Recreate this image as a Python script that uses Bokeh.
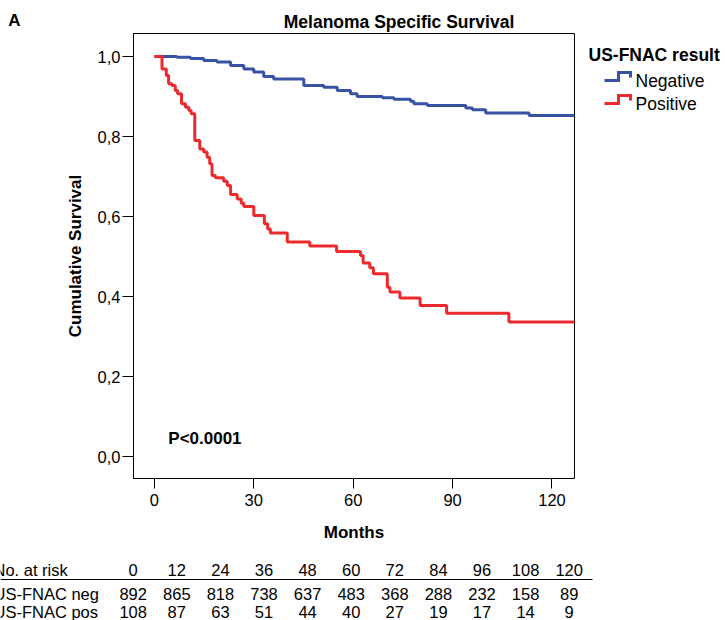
from bokeh.plotting import figure
from bokeh.layouts import column, row
from bokeh.models import Range1d, Label, FixedTicker
from bokeh.core.properties import value
from bokeh.embed import file_html
from bokeh.resources import INLINE

W, H = 725, 620

# ---- data ----
neg_months = [0, 6.8, 10.9, 14.9, 18.9, 23.0, 27.0, 30.0, 33.0, 36.0, 45.1, 51.1, 55.2,
              59.2, 61.2, 68.8, 72.3, 77.3, 78.3, 82.4, 94.0, 96.0, 100.0, 113.1, 127.0]
neg_surv = [1.0, 0.998, 0.995, 0.99, 0.986, 0.9775, 0.969, 0.961, 0.95, 0.944, 0.9275, 0.923,
            0.915, 0.907, 0.90, 0.897, 0.893, 0.888, 0.882, 0.8775, 0.871, 0.8667, 0.859,
            0.8525, 0.8525]

pos_months = [0, 2.3, 3.6, 4.3, 5.3, 6.3, 7.0, 8.2, 9.4, 10.4, 11.1, 12.2, 13.7, 14.9, 15.9,
              16.7, 17.4, 18.4, 20.9, 22.0, 23.0, 25.0, 26.2, 27.0, 30.0, 33.2, 34.2, 35.0,
              40.1, 46.9, 55.0, 62.2, 63.0, 65.0, 66.1, 70.3, 71.1, 74.1, 80.2, 88.2, 107.0,
              127.0]
pos_surv = [1.0, 0.969, 0.9525, 0.932, 0.9275, 0.915, 0.907, 0.882, 0.873, 0.865, 0.857, 0.79,
            0.769, 0.761, 0.748, 0.732, 0.7025, 0.697, 0.688, 0.6775, 0.655, 0.644, 0.633,
            0.625, 0.6025, 0.582, 0.569, 0.559, 0.536, 0.526, 0.5125, 0.5025, 0.484, 0.472,
            0.457, 0.423, 0.411, 0.396, 0.3775, 0.358, 0.336, 0.336]

x_ticks = [0, 30, 60, 90, 120]
y_ticks = [0.0, 0.2, 0.4, 0.6, 0.8, 1.0]
y_tick_labels = ["0,0", "0,2", "0,4", "0,6", "0,8", "1,0"]

risk_times = [0, 12, 24, 36, 48, 60, 72, 84, 96, 108, 120]
risk_neg = [892, 865, 818, 738, 637, 483, 368, 288, 232, 158, 89]
risk_pos = [108, 87, 63, 51, 44, 40, 27, 19, 17, 14, 9]

title_text = "Melanoma Specific Survival"
legend_title = "US-FNAC result"
series_names = ["Negative", "Positive"]
row_names = ["No. at risk", "US-FNAC neg", "US-FNAC pos"]
p_value_text = "P<0.0001"

BLUE = "#3953A4"
RED = "#EC2A2E"
FONT = "Liberation Sans"

# layout sizes
HEAD_H = 32
MAIN_W = 584
MAIN_H = 513
TAB_H = H - HEAD_H - MAIN_H
LEG_W = W - MAIN_W
FRAME_TOP = 1          # frame top inside the main figure
FRAME_BOT = 446        # frame bottom inside the main figure


def blank_fig(w, h, y0=None, y1=None):
    f = figure(width=w, height=h, output_backend="svg", toolbar_location=None,
               x_range=Range1d(0, w),
               y_range=Range1d(h if y1 is None else y1, 0 if y0 is None else y0),
               x_axis_location=None, y_axis_location=None,
               min_border=0, min_border_left=0, min_border_right=0,
               min_border_top=0, min_border_bottom=0)
    f.grid.visible = False
    f.outline_line_color = None
    f.background_fill_color = "white"
    f.border_fill_color = "white"
    return f


def txt(f, xs, ys, texts, size="16.5px", style="normal", align="center"):
    f.text(x=xs, y=ys, text=texts, text_font=value(FONT), text_font_size=value(size),
           text_font_style=style, text_align=align, text_baseline="middle",
           text_color="black")


# ---- header ----
head = blank_fig(W, HEAD_H)
txt(head, [14], [20], ["A"], size="17px", style="bold")
txt(head, [398.5], [21], [title_text], size="17.5px", style="bold")

# ---- main plot ----
p = figure(width=MAIN_W, height=MAIN_H, output_backend="svg", toolbar_location=None,
           x_range=Range1d(-6.3, 126.8), y_range=Range1d(-0.055, 1.0575),
           min_border_left=133, min_border_right=MAIN_W - 574, min_border_top=FRAME_TOP,
           min_border_bottom=MAIN_H - FRAME_BOT)
p.grid.visible = False
p.outline_line_color = "black"
p.outline_line_width = 1
p.background_fill_color = "white"
p.border_fill_color = "white"

p.step(neg_months, neg_surv, mode="after", line_color=BLUE, line_width=3)
p.step(pos_months, pos_surv, mode="after", line_color=RED, line_width=3)

xa = p.xaxis[0]
xa.ticker = FixedTicker(ticks=x_ticks)
xa.axis_line_color = None
xa.major_tick_in = 0
xa.major_tick_out = 10
xa.major_tick_line_color = "black"
xa.minor_tick_line_color = None
xa.major_label_text_font = FONT
xa.major_label_text_font_size = "16.5px"
xa.major_label_text_color = "black"
xa.major_label_standoff = 5
xa.axis_label = "Months"
xa.axis_label_text_font = FONT
xa.axis_label_text_font_size = "17px"
xa.axis_label_text_font_style = "bold"
xa.axis_label_text_color = "black"
xa.axis_label_standoff = 14

ya = p.yaxis[0]
ya.ticker = FixedTicker(ticks=y_ticks)
ya.major_label_overrides = {t: l for t, l in zip(y_ticks, y_tick_labels)}
ya.axis_line_color = "black"
ya.major_tick_in = 0
ya.major_tick_out = 11
ya.major_tick_line_color = "black"
ya.minor_tick_line_color = None
ya.major_label_text_font = FONT
ya.major_label_text_font_size = "16.5px"
ya.major_label_text_color = "black"
ya.major_label_standoff = 2
ya.axis_label = "Cumulative Survival"
ya.axis_label_text_font = FONT
ya.axis_label_text_font_size = "17px"
ya.axis_label_text_font_style = "bold"
ya.axis_label_text_color = "black"
ya.axis_label_standoff = 10

p.add_layout(Label(x=4.2, y=0.045, text=p_value_text, text_font=FONT,
                   text_font_size="17px", text_font_style="bold", text_color="black",
                   text_baseline="middle", text_align="left"))

# ---- legend (right of the plot); its frame is aligned with the main frame ----
leg = blank_fig(LEG_W, MAIN_H, y0=FRAME_TOP, y1=FRAME_BOT)
oy = HEAD_H
txt(leg, [588 - MAIN_W], [54 - oy], [legend_title], size="17.5px", style="bold", align="left")
for i, (name, col) in enumerate(zip(series_names, [BLUE, RED])):
    cy = 80 + 23 * i - oy
    x0 = 604 - MAIN_W
    leg.line([x0, x0 + 14, x0 + 14, x0 + 26, x0 + 26],
             [cy, cy, cy - 8, cy - 8, cy - 3],
             line_color=col, line_width=3, line_join="miter")
    txt(leg, [635 - MAIN_W], [cy], [name], size="17.5px", align="left")

# ---- risk table ----
tab = blank_fig(W, TAB_H)
ty = HEAD_H + MAIN_H
col_x = [132.7 + 43.6 * i for i in range(len(risk_times))]
rows_y = [569 - ty, 593 - ty, 611.5 - ty]
txt(tab, [-7, -7, -7], rows_y, row_names, align="left")
txt(tab, col_x, [rows_y[0]] * len(col_x), [str(t) for t in risk_times])
txt(tab, col_x, [rows_y[1]] * len(col_x), [str(v) for v in risk_neg])
txt(tab, col_x, [rows_y[2]] * len(col_x), [str(v) for v in risk_pos])
tab.line([0, 592], [579 - ty, 579 - ty], line_color="black", line_width=1)

layout = column(head, row(p, leg, spacing=0), tab, spacing=0)
open("out.html", "w").write(file_html(layout, INLINE))
